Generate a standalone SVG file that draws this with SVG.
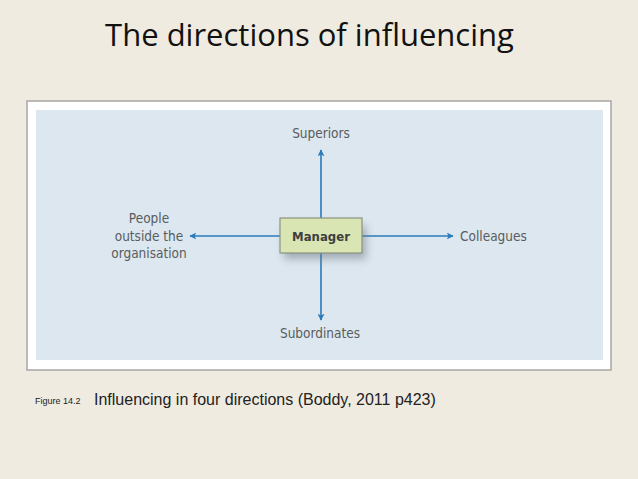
<svg xmlns="http://www.w3.org/2000/svg" width="638" height="479" viewBox="0 0 638 479">
<defs>
<style>
.lbl{font-family:"DejaVu Sans Condensed","Noto Sans",sans-serif;font-size:13.5px;fill:#5a5c5e}
.con{stroke:#2b7bbb;stroke-width:1.6;fill:none}
</style>
<marker id="ah" viewBox="0 0 10 10" refX="9" refY="5" markerWidth="7" markerHeight="7" markerUnits="userSpaceOnUse" orient="auto">
<path d="M0,0 L10,5 L0,10 L2.5,5 Z" fill="#2b7bbb"/>
</marker>
<filter id="sh" x="-30%" y="-30%" width="160%" height="180%">
<feGaussianBlur stdDeviation="4"/>
</filter>
</defs>
<rect width="638" height="479" fill="#efebe1"/>
<text x="309.5" y="46" text-anchor="middle" font-family="Open Sans,sans-serif" font-size="31" fill="#111">The directions of influencing</text>
<rect x="27" y="101" width="584" height="269" fill="#ffffff" stroke="#a9a7a3" stroke-width="1.5"/>
<rect x="36" y="110" width="567" height="250" fill="#dce7ef"/>
<g id="connectors">
<line class="con" x1="321" y1="218" x2="321" y2="150" marker-end="url(#ah)"/>
<line class="con" x1="321" y1="253" x2="321" y2="320" marker-end="url(#ah)"/>
<line class="con" x1="280" y1="236" x2="190" y2="236" marker-end="url(#ah)"/>
<line class="con" x1="362" y1="236" x2="453" y2="236" marker-end="url(#ah)"/>
</g>
<g id="manager">
<rect x="284" y="226" width="82" height="33" fill="#6f7c85" opacity="0.55" filter="url(#sh)"/>
<rect x="280" y="218" width="82" height="35" fill="#d9e6b3" stroke="#8c9282" stroke-width="1.2"/>
<text x="321" y="240.5" text-anchor="middle" font-family="DejaVu Sans Condensed,sans-serif" font-weight="bold" font-size="13" fill="#3d3f40">Manager</text>
</g>
<g id="superiors"><text class="lbl" x="321" y="138" text-anchor="middle">Superiors</text></g>
<g id="subordinates"><text class="lbl" x="320" y="338" text-anchor="middle">Subordinates</text></g>
<g id="colleagues"><text class="lbl" x="460" y="241">Colleagues</text></g>
<g id="people"><text class="lbl" text-anchor="middle"><tspan x="149" y="223">People</tspan><tspan x="149" y="240.5">outside the</tspan><tspan x="149" y="258">organisation</tspan></text></g>
<text x="35" y="404" font-family="Liberation Sans,sans-serif" font-size="9" fill="#222">Figure 14.2</text>
<text x="94" y="405" font-family="Liberation Sans,sans-serif" font-size="16" fill="#222">Influencing in four directions (Boddy, 2011 p423)</text>
</svg>
